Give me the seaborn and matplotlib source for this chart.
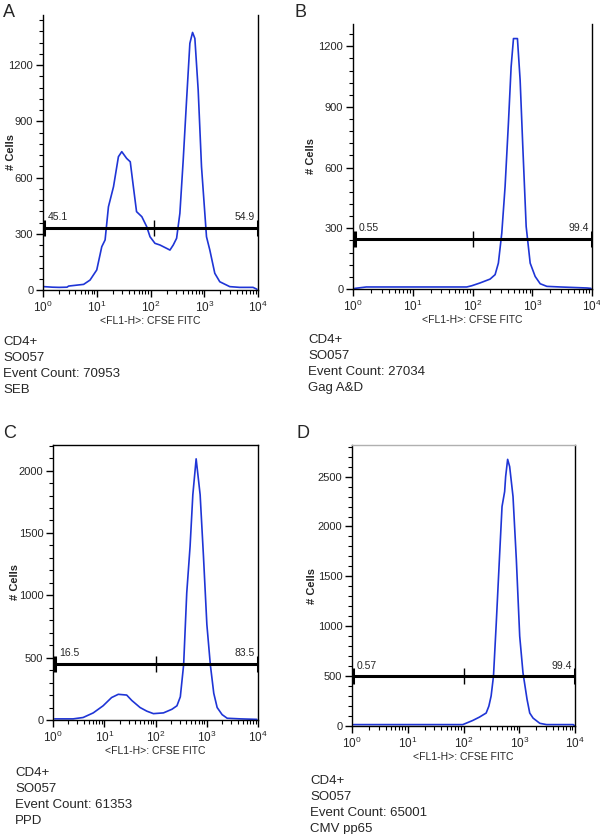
import numpy as np
import pandas as pd
import matplotlib
matplotlib.use("Agg")
import matplotlib.pyplot as plt
import seaborn as sns
from matplotlib.ticker import FixedLocator, MultipleLocator, LogLocator, NullFormatter, FixedFormatter

# ---------------- data ----------------
a_fl1 = [1.03, 1.5, 2.0, 2.8, 3.0, 5.7, 7.5, 10, 12.4, 14.3, 16.5, 20.5, 25.3, 29.2, 36, 42, 48, 55, 69, 85,
         98, 121, 150, 200, 230, 265, 306, 352, 406, 469, 540, 606, 669, 771, 889, 1101, 1270, 1571, 1945,
         2981, 4571, 8070, 9560]
a_cells = [18, 15, 14, 15, 21, 30, 53, 107, 231, 267, 444, 551, 711, 738, 702, 684, 551, 418, 391, 338,
           284, 249, 240, 222, 213, 240, 276, 409, 693, 1013, 1316, 1374, 1342, 1067, 658, 284, 213, 89, 44,
           18, 14, 14, 4]

b_fl1 = [1.07, 1.67, 80, 97, 134, 197, 239, 271, 309, 351, 399, 443, 485, 565, 627, 695, 791, 923, 1119,
         1358, 1757, 2943, 8240, 9620]
b_cells = [3, 10, 10, 16, 30, 49, 71, 128, 276, 506, 819, 1098, 1238, 1238, 1032, 703, 309, 128, 62,
           26, 13, 10, 5, 3]

c_fl1 = [1.08, 2.47, 3.87, 6.1, 9.5, 13.9, 18.8, 27.4, 34.4, 50, 67.6, 91, 143, 209, 262, 305, 354, 407,
         473, 535, 621, 743, 863, 1005, 1175, 1371, 1596, 1995, 2506, 4570, 9500]
c_cells = [9, 9, 20, 57, 114, 180, 206, 200, 157, 100, 71, 51, 57, 86, 114, 186, 443, 1019,
           1393, 1806, 2094, 1806, 1312, 766, 443, 214, 100, 43, 14, 9, 5]

d_fl1 = [1.07, 97, 146, 193, 255, 285, 313, 345, 386, 446, 491, 547, 570, 619, 673, 773, 887, 1019,
         1167, 1380, 1542, 1771, 2336, 3083, 9330, 9900]
d_cells = [14, 14, 55, 89, 130, 199, 301, 500, 1020, 1733, 2200, 2350, 2500, 2673, 2600, 2300, 1667, 900,
           533, 267, 130, 79, 27, 14, 14, 0]

panel_letters = ["A", "B", "C", "D"]
gate_levels = [332, 247, 450, 497]
gate_bounds = [[1.03, 116, 10000], [1.07, 103, 10000], [1.08, 101, 10000], [1.03, 100, 10000]]
gate_pcts = [["45.1", "54.9"], ["0.55", "99.4"], ["16.5", "83.5"], ["0.57", "99.4"]]
y_major = [[0, 300, 600, 900, 1200], [0, 300, 600, 900, 1200],
           [0, 500, 1000, 1500, 2000], [0, 500, 1000, 1500, 2000, 2500]]
y_max = [1467, 1310, 2205, 2817]
x_ticks = [1, 10, 100, 1000, 10000]
x_ticklabels = ["$10^{0}$", "$10^{1}$", "$10^{2}$", "$10^{3}$", "$10^{4}$"]
stimuli = ["SEB", "Gag A&D", "PPD", "CMV pp65"]
event_counts = ["70953", "27034", "61353", "65001"]
cell_type = "CD4+"
subject = "SO057"
x_label = "<FL1-H>: CFSE FITC"
y_label = "# Cells"

# ---------------- style ----------------
sns.set_style("ticks")
plt.rcParams["font.family"] = ["Liberation Sans", "DejaVu Sans"]
plt.rcParams["mathtext.fontset"] = "custom"
plt.rcParams["mathtext.rm"] = "Liberation Sans"
plt.rcParams["mathtext.it"] = "Liberation Sans"
plt.rcParams["mathtext.default"] = "regular"

W, H = 600, 834
fig = plt.figure(figsize=(6, 8.34), dpi=100)
fig.patch.set_facecolor("white")

def fx(px):
    return px / W

def fy(py):
    return 1 - py / H

# axes boxes in pixels: left, top, right, bottom
boxes = [(43, 15, 258, 290), (353, 24, 592, 289), (53, 445, 258, 720), (352, 445, 575, 726)]
minor_step = [60, 60, 100, 100]
letter_pos = [(3, 17), (295, 17), (3, 438), (297, 438)]
info_pos = [(3, 345), (308, 343), (15, 776), (310, 784)]
ylabel_right_px = [16, 316, 20, 317]
top_spine = [None, None, "black", "#b0b0b0"]

datasets = [(a_fl1, a_cells), (b_fl1, b_cells), (c_fl1, c_cells), (d_fl1, d_cells)]
line_color = "#1f35d6"

for i in range(4):
    l, t, r, b = boxes[i]
    ax = fig.add_axes([fx(l), fy(b), (r - l) / W, (b - t) / H])
    df = pd.DataFrame({"fl1": datasets[i][0], "cells": datasets[i][1]})
    sns.lineplot(data=df, x="fl1", y="cells", ax=ax, color=line_color, lw=1.2,
                 estimator=None, sort=False)
    ax.set_xscale("log")
    ax.set_xlim(1, 10000)
    ax.set_ylim(0, y_max[i])

    # gate bar
    gb = gate_bounds[i]
    gl = gate_levels[i]
    ax.plot([gb[0], gb[2]], [gl, gl], color="black", lw=2.2, solid_capstyle="butt", zorder=5)
    ax.plot([gb[0], gb[2]], [gl, gl], ls="none", marker="|", ms=11, mew=2.2, color="black", zorder=5)
    ax.plot([gb[1]], [gl], ls="none", marker="|", ms=11, mew=1.0, color="black", zorder=5)
    ax.annotate(gate_pcts[i][0], xy=(gb[0], gl), xytext=(3, 4), textcoords="offset points",
                ha="left", va="bottom", fontsize=7.5)
    ax.annotate(gate_pcts[i][1], xy=(gb[2], gl), xytext=(-2, 4), textcoords="offset points",
                ha="right", va="bottom", fontsize=7.5)

    # ticks
    ax.xaxis.set_major_locator(FixedLocator(x_ticks))
    ax.xaxis.set_major_formatter(FixedFormatter(x_ticklabels))
    ax.xaxis.set_minor_locator(LogLocator(base=10, subs=np.arange(2, 10)))
    ax.xaxis.set_minor_formatter(NullFormatter())
    ax.yaxis.set_major_locator(FixedLocator(y_major[i]))
    ax.yaxis.set_minor_locator(MultipleLocator(minor_step[i]))
    ax.tick_params(axis="both", which="major", direction="out", length=5, width=1.0,
                   labelsize=8, pad=2, color="black")
    ax.tick_params(axis="both", which="minor", direction="out", length=3, width=0.8, color="black")
    ax.tick_params(axis="x", which="major", labelsize=8.5, pad=2)

    ax.set_xlabel(x_label, fontsize=7.5, labelpad=1)
    ax.set_ylabel(y_label, fontsize=8, fontweight="bold")
    ax.yaxis.set_label_coords((ylabel_right_px[i] - l) / (r - l), 0.5)

    for s in ["left", "bottom", "right"]:
        ax.spines[s].set_color("black")
        ax.spines[s].set_linewidth(1.0)
        ax.spines[s].set_visible(True)
    if top_spine[i] is None:
        ax.spines["top"].set_visible(False)
    else:
        ax.spines["top"].set_visible(True)
        ax.spines["top"].set_color(top_spine[i])
        ax.spines["top"].set_linewidth(1.0)
    ax.set_facecolor("white")
    ax.grid(False)

    # panel letter
    lx, ly = letter_pos[i]
    fig.text(fx(lx), fy(ly), panel_letters[i], fontsize=13, ha="left", va="baseline")

    # info text
    ix, iy = info_pos[i]
    lines = [cell_type, subject, "Event Count: " + event_counts[i], stimuli[i]]
    for k, line in enumerate(lines):
        fig.text(fx(ix), fy(iy + 16 * k), line, fontsize=9.5, ha="left", va="baseline")

fig.savefig("out.png", dpi=100, facecolor="white")
